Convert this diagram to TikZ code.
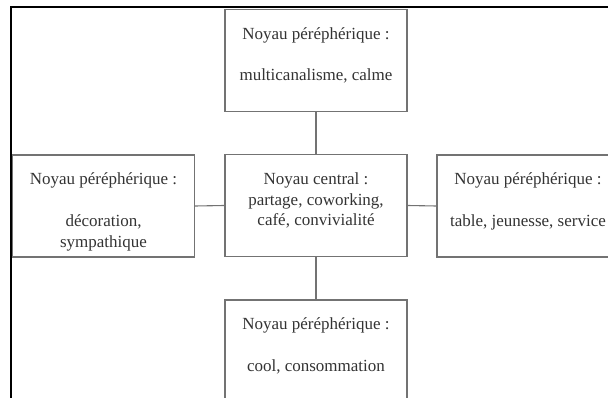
\documentclass[tikz,border=0pt]{standalone}
\usepackage{fontspec}
\setmainfont{Liberation Serif}
\newcommand\boxtext[1]{\parbox[c][102pt][t]{182pt}{\fontsize{17}{20.8}\selectfont\centering\vspace*{15.3pt}\strut #1}}
\tikzset{
  nbox/.style={draw=black!55, line width=1.1pt, inner sep=0pt, text=black!80},
  link/.style={draw=black!55, line width=1.1pt},
  frame/.style={draw=black, line width=2pt}
}
\begin{document}
\begin{tikzpicture}[x=1pt,y=-1pt]
\useasboundingbox (0,0) rectangle (608,398);
\clip (0,0) rectangle (608,398);
\draw[frame] (11,420) -- (11,7.5) -- (640,7.5);
\node[nbox] (top) at (316,60.5) {\boxtext{Noyau péréphérique :\\[20.8pt]multicanalisme, calme}};
\node[nbox] (central) at (316,205.5) {\boxtext{Noyau central :\\partage, coworking,\\café, convivialité}};
\node[nbox] (left) at (103.5,206) {\boxtext{Noyau péréphérique :\\[20.8pt]décoration,\\sympathique}};
\node[nbox] (right) at (528,206) {\boxtext{Noyau péréphérique :\\[20.8pt]table, jeunesse, service}};
\node[nbox] (bottom) at (316,351) {\boxtext{Noyau péréphérique :\\[20.8pt]cool, consommation}};
\draw[link] (top.south) -- (central.north);
\draw[link] (left.east) -- (central.west);
\draw[link] (central.east) -- (right.west);
\draw[link] (central.south) -- (bottom.north);
\end{tikzpicture}
\end{document}
